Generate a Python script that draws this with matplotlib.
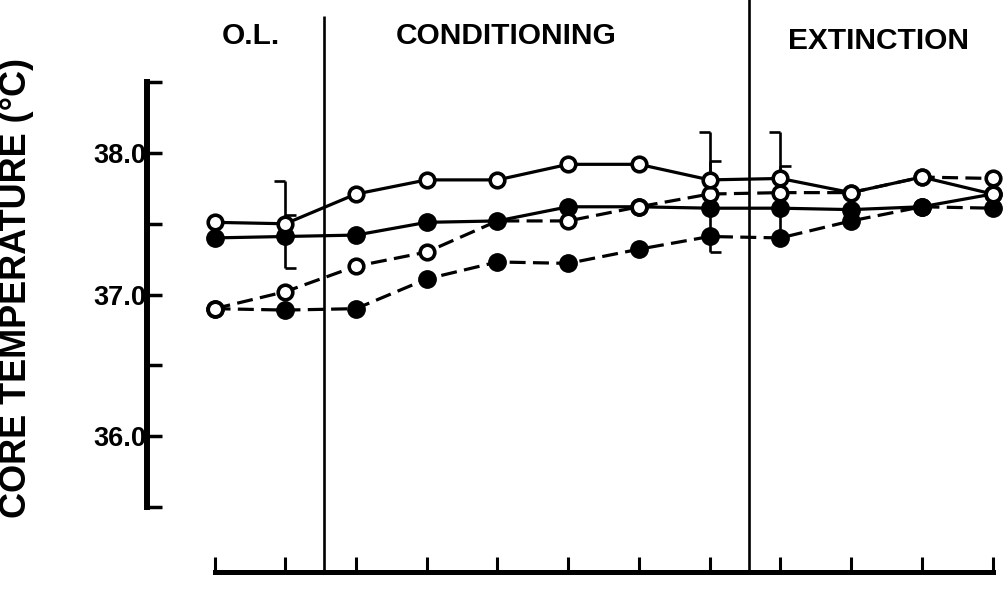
import numpy as np
import matplotlib
matplotlib.use("Agg")
import matplotlib.pyplot as plt

plt.rcParams['font.family'] = ['Liberation Sans', 'DejaVu Sans']
plt.rcParams['font.weight'] = 'bold'

# Session number along the horizontal axis
sessions = [1, 2, 3, 4, 5, 6, 7, 8, 9, 10, 11, 12]

# Mean core temperature (°C) for the four curves
open_solid = [37.51, 37.50, 37.71, 37.81, 37.81, 37.92, 37.92, 37.81, 37.82, 37.72, 37.83, 37.71]
filled_solid = [37.40, 37.41, 37.42, 37.51, 37.52, 37.62, 37.62, 37.61, 37.61, 37.60, 37.62, 37.71]
open_dashed = [36.90, 37.02, 37.20, 37.30, 37.52, 37.52, 37.62, 37.71, 37.72, 37.72, 37.83, 37.82]
filled_dashed = [36.90, 36.89, 36.90, 37.11, 37.23, 37.22, 37.32, 37.41, 37.40, 37.52, 37.62, 37.61]

# One-sided error bars per session
err_open_solid_up = [0, 0.30, 0, 0, 0, 0, 0, 0.34, 0.33, 0, 0, 0]
err_open_dashed_up = [0, 0, 0, 0, 0, 0, 0, 0.23, 0.19, 0, 0, 0]
err_filled_solid_up = [0, 0.15, 0, 0, 0, 0, 0, 0, 0, 0, 0, 0]
err_filled_solid_down = [0, 0.22, 0, 0, 0, 0, 0, 0.31, 0.21, 0, 0, 0]

# Phase boundaries and labels
phase_bounds = [2.55, 8.55]
phase_names = ["O.L.", "CONDITIONING", "EXTINCTION"]
phase_label_x = [1.52, 5.12, 10.39]

y_ticks = [35.5, 36.0, 36.5, 37.0, 37.5, 38.0, 38.5]
y_tick_labels = ["", "36.0", "", "37.0", "", "38.0", ""]

fig = plt.figure(figsize=(10.08, 5.92), dpi=100)
ax = fig.add_axes([0.14266, 0.0125, 0.85605, 0.99198])
ax.set_xlim(0, 12.2)
ax.set_ylim(34.95, 39.1)

x = np.array(sessions)
LW = 2.3
dash = (5, 2.3)


def one_sided(vals, err, sign, cap_marker):
    """Vertical error segment from each point, with an optional half cap."""
    v = np.array(vals)
    e = np.array(err)
    for i in np.nonzero(e)[0]:
        end = v[i] + sign * e[i]
        ax.plot([x[i], x[i]], [v[i], end], color='black', lw=1.9, zorder=2,
                solid_capstyle='butt', clip_on=False)
        if cap_marker is not None:
            ax.plot([x[i]], [end], marker=cap_marker, ms=8, mew=1.9,
                    color='black', zorder=2, clip_on=False)


one_sided(open_solid, err_open_solid_up, 1, 0)
one_sided(open_dashed, err_open_dashed_up, 1, 1)
one_sided(filled_solid, err_filled_solid_up, 1, 1)
# at session 9 the lower segment ends on the filled dashed point, so no cap
fs_down_capped = [e if i != 8 else 0 for i, e in enumerate(err_filled_solid_down)]
fs_down_plain = [e if i == 8 else 0 for i, e in enumerate(err_filled_solid_down)]
one_sided(filled_solid, fs_down_capped, -1, 1)
one_sided(filled_solid, fs_down_plain, -1, None)

# curves
ax.plot(x, filled_dashed, color='black', lw=LW, dashes=dash, zorder=3,
        marker='o', ms=12.5, mfc='black', mec='black', clip_on=False)
ax.plot(x, filled_solid, color='black', lw=LW, zorder=3,
        marker='o', ms=12.5, mfc='black', mec='black', clip_on=False)
ax.plot(x, open_dashed, color='black', lw=LW, dashes=dash, zorder=4,
        marker='o', ms=10.5, mfc='white', mec='black', mew=2.6,
        markevery=[i for i in range(len(x)) if i != 4], clip_on=False)
ax.plot(x, open_solid, color='black', lw=LW, zorder=4,
        marker='o', ms=10.5, mfc='white', mec='black', mew=2.6, clip_on=False)

# phase dividers
x_axis_level = 35.036
ax.vlines(phase_bounds, x_axis_level, [38.97, 39.1], color='black', lw=1.9, zorder=1)

for name, px, py in zip(phase_names, phase_label_x, [38.83, 38.83, 38.79]):
    ax.text(px, py, name, ha='center', va='center', fontsize=21.5,
            fontweight='bold', color='black')

# axes styling
for s in ['top', 'right']:
    ax.spines[s].set_visible(False)
ax.spines['left'].set_position(('data', 0.046))
ax.spines['left'].set_bounds(35.5, 38.5)
ax.spines['left'].set_linewidth(4.3)
ax.spines['bottom'].set_position(('data', x_axis_level))
ax.spines['bottom'].set_bounds(1, 12)
ax.spines['bottom'].set_linewidth(3.6)
for s in ['left', 'bottom']:
    ax.spines[s].set_capstyle('projecting')

ax.set_xticks(sessions)
ax.set_xticklabels([])
ax.tick_params(axis='x', direction='in', length=11, width=2.2, labelbottom=False)
ax.set_yticks(y_ticks)
ax.set_yticklabels(y_tick_labels, fontweight='bold')
ax.tick_params(axis='y', direction='in', length=11, width=2.5, pad=0.5, labelsize=19.5)
ax.patch.set_visible(False)

fig.text(17 / 1008, 1 - 288 / 592, "CORE TEMPERATURE (°C)", rotation=90,
         ha='center', va='center', fontsize=26, fontweight='bold')

fig.savefig("out.png", dpi=100, facecolor='white')
